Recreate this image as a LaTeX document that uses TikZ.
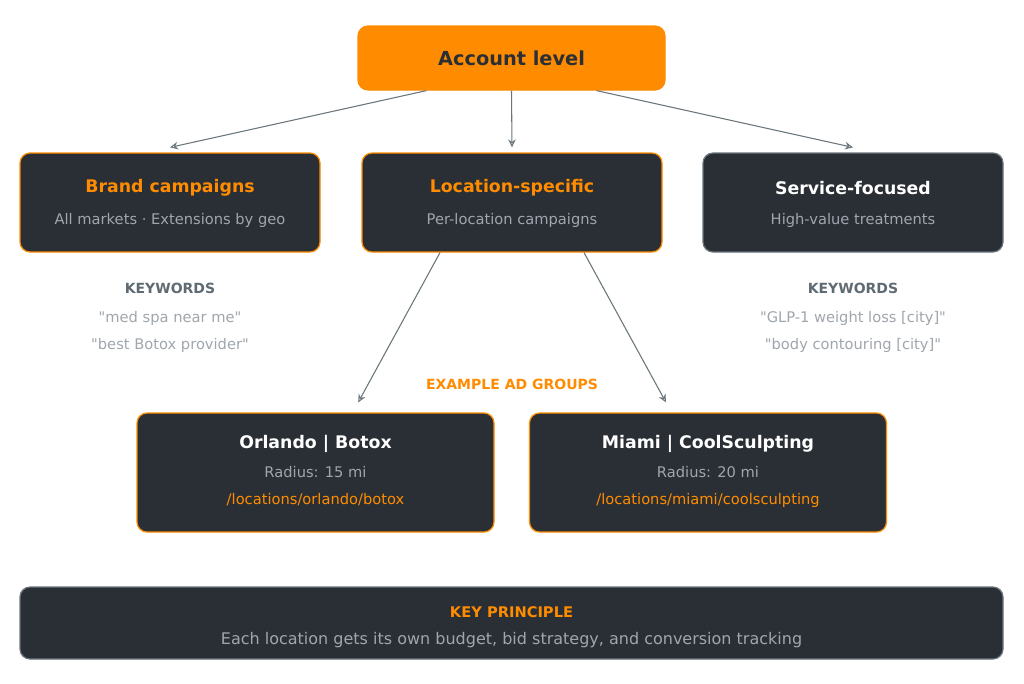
\documentclass[tikz,border=0pt]{standalone}
\usepackage{fontspec}
\setmainfont{DejaVu Sans}[Ligatures=TeXOff]
\usetikzlibrary{arrows.meta}
\definecolor{darkbox}{HTML}{2A2F36}
\definecolor{accent}{HTML}{FF8C00}
\definecolor{subtxt}{HTML}{A0A6AD}
\definecolor{kwlabel}{HTML}{5F6B73}
\definecolor{linegray}{HTML}{6B757C}

\begin{document}
\begin{tikzpicture}[x=0.75pt,y=-0.75pt]
\tikzset{box/.style = {draw=accent,line width=0.9pt,fill=darkbox,rounded corners=7.5pt,
  minimum height=74.25pt,align=center,inner sep=0pt}}
\tikzset{edge/.style = {-{Stealth[open,length=6pt,width=6pt,angle'=50]},draw=linegray,line width=0.8pt}}
\tikzset{ttl/.style = {font=\fontsize{13}{15}\bfseries}}
\tikzset{sub/.style = {font=\fontsize{11}{13}\selectfont,text=subtxt}}

\useasboundingbox (0,0) rectangle (1024,683);
\fill[white] (0,0) rectangle (1024,683);

% top

\node[box,fill=accent,minimum width=230.25pt,minimum height=48pt,text=darkbox,
  font=\fontsize{14.5}{17}\bfseries] (acct) at (511.5,58) {Account level};

% campaign types

\node[box,minimum width=225pt] (brand) at (170,202.5) {};
\node[ttl,text=accent] at (170,188) {Brand campaigns};
\node[sub] at (170,220) {All markets · Extensions by geo};

\node[box,minimum width=225pt] (loc) at (512,202.5) {};
\node[ttl,text=accent] at (512,188) {Location-specific};
\node[sub] at (512,220) {Per-location campaigns};

\node[box,draw=linegray,minimum width=225pt] (service) at (853,202.5) {};
\node[ttl,text=white] at (853,188) {Service-focused};
\node[sub] at (853,220) {High-value treatments};

% keywords

\node[font=\fontsize{10.5}{12}\bfseries,text=kwlabel] (kwbrand) at (170,288) {KEYWORDS};
\node[sub,align=center,font=\fontsize{11}{20.5}\selectfont] at (170,332) {"med spa near me"\\"best Botox provider"};
\node[font=\fontsize{10.5}{12}\bfseries,text=kwlabel] (kwservice) at (853,288) {KEYWORDS};
\node[sub,align=center,font=\fontsize{11}{20.5}\selectfont] at (853,332) {"GLP-1 weight loss [city]"\\"body contouring [city]"};

% ad groups

\node[font=\fontsize{10.5}{12}\bfseries,text=accent] (adlabel) at (512,384) {EXAMPLE AD GROUPS};

\node[box,minimum width=267.75pt,minimum height=89.25pt] (orlando) at (315.5,472.5) {};
\node[ttl,text=white] at (315.5,444) {Orlando | Botox};
\node[sub] at (315.5,472) {Radius: 15 mi};
\node[sub,text=accent] at (315.5,500) {/locations/orlando/botox};

\node[box,minimum width=267.75pt,minimum height=89.25pt] (miami) at (708,472.5) {};
\node[ttl,text=white] at (708,444) {Miami | CoolSculpting};
\node[sub] at (708,472) {Radius: 20 mi};
\node[sub,text=accent] at (708,500) {/locations/miami/coolsculpting};

% principle

\node[box,draw=linegray,minimum width=737.25pt,minimum height=54pt] (principle) at (511.5,623) {};
\node[font=\fontsize{11}{13}\bfseries,text=accent] at (511.5,612) {KEY PRINCIPLE};
\node[sub,font=\fontsize{12}{14}\selectfont] at (511.5,640) {Each location gets its own budget, bid strategy, and conversion tracking};

% edges

\draw[edge] ([xshift=-63.75pt]acct.south) -- ([yshift=3.75pt]brand.north);
\draw[edge] (acct.south) -- ([yshift=3.75pt]loc.north);
\draw[edge] ([xshift=63.75pt]acct.south) -- ([yshift=3.75pt]service.north);
\draw[edge] ([xshift=-54pt]loc.south) -- ([xshift=32pt,yshift=7.5pt]orlando.north);
\draw[edge] ([xshift=54pt]loc.south) -- ([xshift=-31.5pt,yshift=7.5pt]miami.north);
\end{tikzpicture}
\end{document}
